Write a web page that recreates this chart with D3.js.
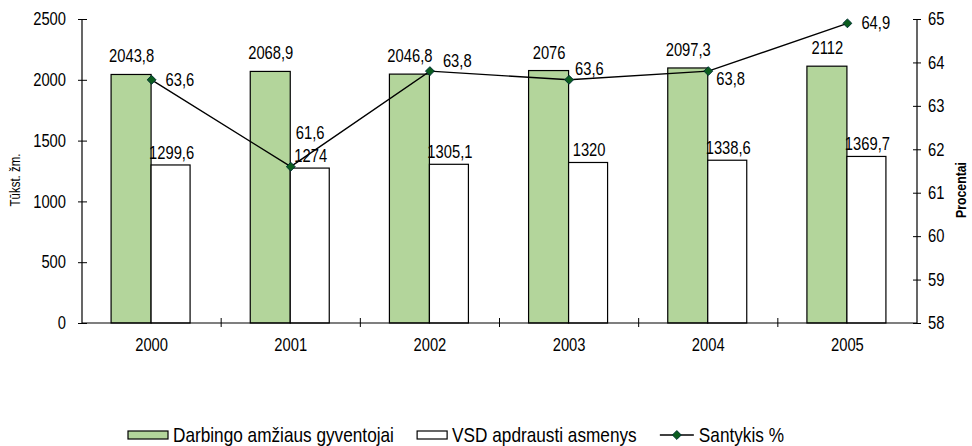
<!DOCTYPE html>
<html>
<head>
<meta charset="utf-8">
<script src="https://cdn.jsdelivr.net/npm/d3@7"></script>
<style>
  body { margin: 0; background: #fff; }
  text { font-family: "Liberation Sans", Arial, sans-serif; fill: #000; }
  .domain, .tick line { stroke: #000; }
</style>
</head>
<body>
<div id="chart"></div>
<script>
// chart data
var years = ["2000", "2001", "2002", "2003", "2004", "2005"];
var workingAge = [2043.8, 2068.9, 2046.8, 2076, 2097.3, 2112];
var insured = [1299.6, 1274, 1305.1, 1320, 1338.6, 1369.7];
var ratio = [63.6, 61.6, 63.8, 63.6, 63.8, 64.9];
var leftTicks = [0, 500, 1000, 1500, 2000, 2500];
var rightTicks = [58, 59, 60, 61, 62, 63, 64, 65];

// where the ratio labels sit relative to their point
var ratioLabelPos = [[14, 6], [5, -28], [13, -4], [6, -5], [8, 14], [14, 6]];

var svgWidth = 972;
var svgHeight = 446;

var margin = { top: 19, right: 55, bottom: 123, left: 82 };
var width = svgWidth - margin.left - margin.right;
var height = svgHeight - margin.top - margin.bottom;

var green = "#b3d59b";
var markerColor = "#0b5d1e";

var svg = d3.select("#chart")
  .append("svg")
  .attr("width", svgWidth)
  .attr("height", svgHeight);

var chartGroup = svg.append("g")
  .attr("transform", `translate(${margin.left}, ${margin.top})`);

// scales
var x = d3.scaleBand().domain(years).range([0, width]).padding(0);
var yLeft = d3.scaleLinear().domain([0, 2500]).range([height, 0]);
var yRight = d3.scaleLinear().domain([58, 65]).range([height, 0]);

var barW = 40;
var fmt = v => String(v).replace(".", ",");

// no narrow font available, so squeeze the text horizontally instead
function squeeze(sel) {
  sel.each(function() {
    var t = d3.select(this);
    var tx = +t.attr("x") || 0, ty = +t.attr("y") || 0;
    var tr = t.attr("transform") || "";
    t.attr("transform", `${tr} translate(${tx},${ty}) scale(0.82,1)`)
      .attr("x", 0).attr("y", 0);
  });
}

// bars
var rows = years.map((y, i) => ({ year: y, a: workingAge[i], b: insured[i], r: ratio[i], pos: ratioLabelPos[i] }));
var cx = d => x(d.year) + x.bandwidth() / 2;

chartGroup.selectAll(".barA")
  .data(rows)
  .enter()
  .append("rect")
  .attr("x", d => cx(d) - barW - 0.5)
  .attr("y", d => yLeft(d.a))
  .attr("width", barW)
  .attr("height", d => height - yLeft(d.a))
  .attr("fill", green)
  .attr("stroke", "#000")
  .attr("stroke-width", 1.2);

chartGroup.selectAll(".barB")
  .data(rows)
  .enter()
  .append("rect")
  .attr("x", d => cx(d) - 0.5)
  .attr("y", d => yLeft(d.b))
  .attr("width", barW - 1)
  .attr("height", d => height - yLeft(d.b))
  .attr("fill", "#fff")
  .attr("stroke", "#000")
  .attr("stroke-width", 1.2);

// bar labels
chartGroup.selectAll(".labA")
  .data(rows)
  .enter()
  .append("text")
  .attr("x", d => cx(d) - barW / 2)
  .attr("y", d => yLeft(d.a) - 12)
  .attr("text-anchor", "middle")
  .style("font-size", "18px")
  .text(d => fmt(d.a));

chartGroup.selectAll(".labB")
  .data(rows)
  .enter()
  .append("text")
  .attr("x", d => cx(d) + barW / 2)
  .attr("y", d => yLeft(d.b) - 6)
  .attr("text-anchor", "middle")
  .style("font-size", "18px")
  .text(d => fmt(d.b));

// axes
var leftAxis = d3.axisLeft(yLeft).tickValues(leftTicks).tickSize(4).tickPadding(12).tickFormat(d => d);
var gl = chartGroup.append("g").call(leftAxis);
gl.selectAll(".tick line").attr("x1", 5);

var rightAxis = d3.axisRight(yRight).tickValues(rightTicks).tickSize(4).tickPadding(7).tickFormat(d => d);
var gr = chartGroup.append("g").attr("transform", `translate(${width}, 0)`).call(rightAxis);
gr.selectAll(".tick line").attr("x1", -4);

var gb = chartGroup.append("g").attr("transform", `translate(0, ${height})`)
  .call(d3.axisBottom(x).tickSize(0).tickPadding(15));
gb.selectAll(".tick text").attr("dy", "0.71em");

// tick marks between categories
chartGroup.selectAll(".sep")
  .data(years.slice(1))
  .enter()
  .append("line")
  .attr("x1", d => x(d)).attr("x2", d => x(d))
  .attr("y1", height - 5).attr("y2", height + 4)
  .attr("stroke", "#000");

[gl, gr, gb].forEach(g => {
  g.selectAll(".domain").attr("stroke-width", 1.2);
  g.selectAll("text").style("font-size", "18px").style("font-family", null);
});
gl.select(".domain").attr("d", `M0,0V${height}`);
gr.select(".domain").attr("d", `M0,0V${height}`);
gb.select(".domain").attr("d", `M0,0H${width}`);

// ratio line
var line = d3.line().x(d => cx(d)).y(d => yRight(d.r));
chartGroup.append("path")
  .datum(rows)
  .attr("d", line)
  .attr("fill", "none")
  .attr("stroke", "#000")
  .attr("stroke-width", 1.4);

chartGroup.selectAll(".pt")
  .data(rows)
  .enter()
  .append("path")
  .attr("d", d3.symbol(d3.symbolDiamond2, 50))
  .attr("transform", d => `translate(${cx(d)}, ${yRight(d.r)})`)
  .attr("fill", markerColor)
  .attr("stroke", "#033");

chartGroup.selectAll(".labR")
  .data(rows)
  .enter()
  .append("text")
  .attr("x", d => cx(d) + d.pos[0])
  .attr("y", d => yRight(d.r) + d.pos[1])
  .style("font-size", "18px")
  .text(d => fmt(d.r));

// axis titles
svg.append("text")
  .attr("transform", `translate(20, 180) rotate(-90)`)
  .attr("text-anchor", "middle")
  .style("font-size", "14px")
  .text("Tūkst. žm.");

svg.append("text")
  .attr("transform", `translate(966, 190) rotate(-90)`)
  .attr("text-anchor", "middle")
  .style("font-size", "15px")
  .style("font-weight", "bold")
  .text("Procentai");

// legend
var legend = svg.append("g").attr("transform", "translate(128, 435)");
var lx = 0;
var items = [
  { name: "Darbingo amžiaus gyventojai", type: "bar", fill: green, w: 40 },
  { name: "VSD apdrausti asmenys", type: "bar", fill: "#fff", w: 30 },
  { name: "Santykis %", type: "line", w: 34 }
];
items.forEach(it => {
  if (it.type === "bar") {
    legend.append("rect")
      .attr("x", lx).attr("y", -4).attr("width", it.w).attr("height", 8)
      .attr("fill", it.fill).attr("stroke", "#000").attr("stroke-width", 1.2);
  } else {
    legend.append("line")
      .attr("x1", lx).attr("x2", lx + it.w).attr("y1", 0).attr("y2", 0)
      .attr("stroke", "#000").attr("stroke-width", 1.4);
    legend.append("path")
      .attr("d", d3.symbol(d3.symbolDiamond2, 50))
      .attr("transform", `translate(${lx + it.w / 2}, 0)`)
      .attr("fill", markerColor).attr("stroke", "#033");
  }
  var t = legend.append("text")
    .attr("x", lx + it.w + 5)
    .attr("y", 7)
    .style("font-size", "21px")
    .text(it.name);
  lx += it.w + 5 + t.node().getComputedTextLength() * 0.82 + 23;
});

squeeze(svg.selectAll("text"));
</script>
</body>
</html>
